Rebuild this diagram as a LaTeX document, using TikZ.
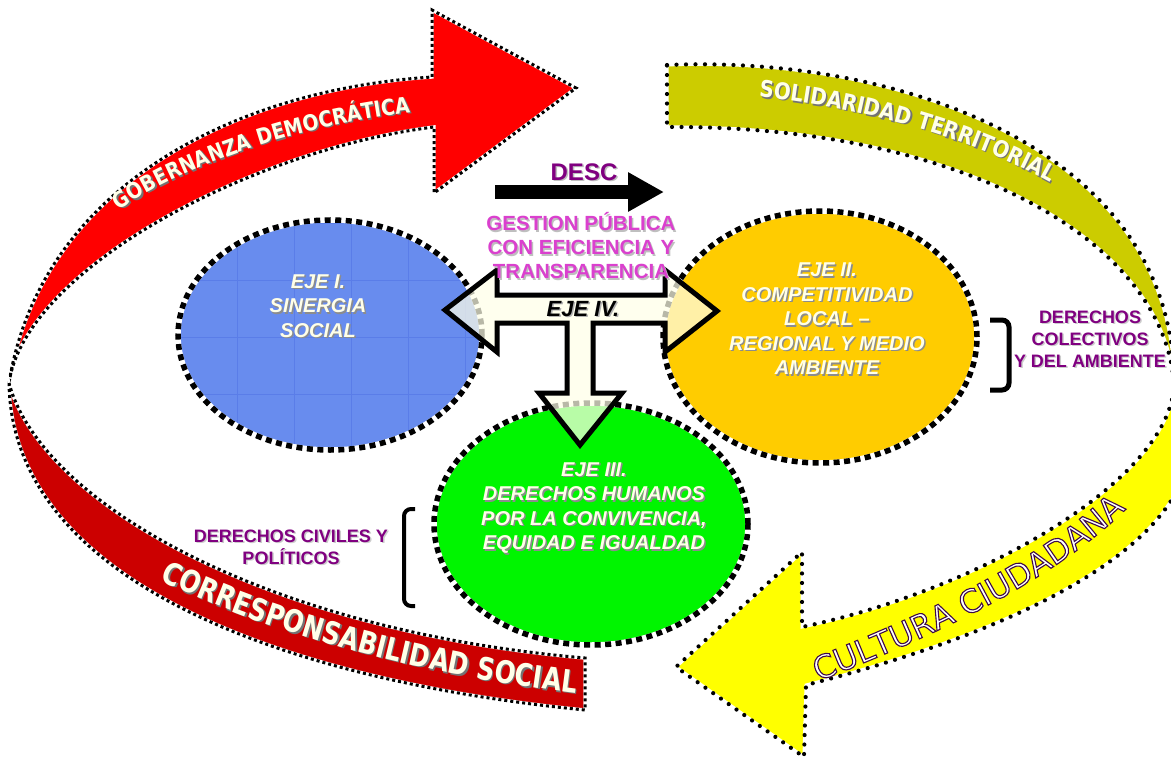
\documentclass[tikz,border=0pt]{standalone}
\usepackage{fontspec}
\setmainfont{Liberation Sans}
\newfontfamily\bandfont[FakeStretch=0.86]{DejaVu Sans}
\newfontfamily\bandfontb[FakeStretch=0.8]{DejaVu Sans}
\newfontfamily\cultfont{DejaVu Sans}
\usetikzlibrary{decorations.text,shapes.geometric,arrows.meta}
\definecolor{bandredA}{RGB}{255,0,0}
\definecolor{bandredB}{RGB}{204,0,0}
\definecolor{oliveA}{RGB}{204,204,0}
\definecolor{yellowA}{RGB}{255,255,0}
\definecolor{ejeblue}{RGB}{104,140,238}
\definecolor{ejegrid}{RGB}{90,125,232}
\definecolor{ejeorange}{RGB}{255,204,0}
\definecolor{ejegreen}{RGB}{0,245,0}
\definecolor{txtpurple}{RGB}{128,0,128}
\definecolor{txtmagenta}{RGB}{218,64,206}
\definecolor{cream}{RGB}{255,255,232}
\makeatletter
\newcommand\outlinefmt{\pgfsys@invoke{2 Tr 1.1 w 0.24 0.04 0.28 RG}}
\newcommand\outlinereset{\pgfsys@invoke{0 Tr}}
\makeatother
\newcommand\shtext[5]{%
  \node[#3, text=#4, xshift=1.5pt, yshift=-1.5pt] (#1s) at #2 {#5};
  \node[#3] (#1) at #2 {#5};}
\newcommand\bandtext[3]{%
  \path[shift={(1.4,1.4)}, decorate, decoration={text along path, text align=center, text={|#1\color{black!55}|#2}}] #3;
  \path[decorate, decoration={text along path, text align=center, text={|#1\color{cream}|#2}}] #3;}
\begin{document}
\begin{tikzpicture}[x=1pt,y=-1pt,
  redborder/.style={postaction={draw=white,line width=3.4pt}, postaction={draw=black,line width=3pt,dash pattern=on 3pt off 3pt}},
  dotborder/.style={postaction={draw=white,line width=3pt}, postaction={draw=black,line width=4.2pt,line cap=round,dash pattern=on 0pt off 9.5pt}},
  ejeborder/.style={postaction={draw=white,line width=5.5pt}, postaction={draw=black,line width=5.5pt,dash pattern=on 6pt off 4.5pt}},
  ejeshape/.style={ellipse, inner sep=0pt, ejeborder},
  ejetxt/.style={font=\fontsize{20}{24.5}\selectfont\bfseries\itshape, text=cream, align=center, inner sep=0pt},
  sidetxt/.style={font=\fontsize{18}{22}\selectfont\bfseries, text=txtpurple, align=center, inner sep=0pt},
  bracket/.style={draw=black, line width=5pt, rounded corners=7pt}
]
\useasboundingbox (0,0) rectangle (1171,758);
\clip (0,0) rectangle (1171,758);

% red twisted arrow: upper loop (bright red)
\fill[bandredA, redborder]
 (9,383) .. controls (25,270) and (250,150) .. (434,127)
 -- (434,193) -- (576,88) -- (432,10) -- (432,77)
 .. controls (230,90) and (40,190) .. (9,383) -- cycle;
% lower loop (dark red)
\fill[bandredB, redborder]
 (9,383) .. controls (12,580) and (280,680) .. (585,710)
 -- (585,658) .. controls (260,630) and (40,500) .. (9,383) -- cycle;

% olive upper loop
\fill[oliveA, dotborder]
 (667,65) .. controls (900,55) and (1175,150) .. (1174,385)
 .. controls (1165,240) and (960,125) .. (667,127) -- cycle;
% yellow lower loop with head
\fill[yellowA, dotborder]
 (1174,385) .. controls (1240,500) and (1100,610) .. (806,685)
 -- (804,757) -- (676,667) -- (802,552) -- (802,627)
 .. controls (980,590) and (1170,480) .. (1174,385) -- cycle;

% ellipses
\node[ejeshape, fill=ejeblue, minimum width=304pt, minimum height=230pt] (eje1) at (330,335) {};
\begin{scope}
  \clip (330,335) ellipse [x radius=149, y radius=112];
  \foreach \gx in {180,237,294,351,408,465} \draw[ejegrid, line width=0.8pt] (\gx,215) -- (\gx,455);
  \foreach \gy in {223,280,337,394,451} \draw[ejegrid, line width=0.8pt] (175,\gy) -- (485,\gy);
\end{scope}
\node[ejeshape, fill=ejeorange, minimum width=314pt, minimum height=252pt] (eje2) at (820,337) {};
\node[ejeshape, fill=ejegreen, minimum width=314pt, minimum height=242pt] (eje3) at (591,524) {};

% EJE IV three-headed arrow
\filldraw[fill=cream, fill opacity=0.72, draw=black, line width=5pt, line join=miter]
 (445,310) -- (497,270) -- (497,295) -- (665,295) -- (665,270) -- (717,311)
 -- (665,352) -- (665,323) -- (593,323) -- (593,393) -- (622,393) -- (580,445)
 -- (539,393) -- (567,393) -- (567,323) -- (497,323) -- (497,352) -- cycle;

% DESC arrow
\coordinate (descL) at (495,192);
\coordinate (descR) at (664,192);
\draw[line width=14pt, -{Triangle[length=36pt,width=37pt]}] (descL) -- (descR);

% brackets
\draw[bracket] (990,320) -- (1009,320) -- (1009,390) -- (990,390);
\draw[bracket, line width=4pt] (415,509) -- (404,509) -- (404,606) -- (415,606);

% texts
\shtext{t1}{(318,306)}{ejetxt}{black!45}{EJE I.\\SINERGIA\\SOCIAL}
\shtext{t2}{(827,319)}{ejetxt}{black!45}{EJE II.\\COMPETITIVIDAD\\LOCAL --\\REGIONAL Y MEDIO\\AMBIENTE}
\shtext{t3}{(594,508)}{ejetxt}{black!45}{EJE III.\\DERECHOS HUMANOS\\POR LA CONVIVENCIA,\\EQUIDAD E IGUALDAD}
\shtext{t4}{(583,309)}{font=\fontsize{22}{26}\selectfont\bfseries\itshape, text=black, inner sep=0pt}{black!30}{EJE IV.}
\shtext{desc}{(584,172)}{font=\fontsize{24}{28}\selectfont\bfseries, text=txtpurple, inner sep=0pt}{black!25}{DESC}
\shtext{gest}{(581,246)}{font=\fontsize{20.5}{24}\selectfont\bfseries, text=txtmagenta, align=center, inner sep=0pt}{black!25}{GESTION PÚBLICA\\CON EFICIENCIA Y\\TRANSPARENCIA}
\shtext{dcol}{(1090,339)}{sidetxt}{black!20}{DERECHOS\\COLECTIVOS\\Y DEL AMBIENTE}
\shtext{dciv}{(291,547)}{sidetxt}{black!20}{DERECHOS CIVILES Y\\POLÍTICOS}

% band texts
\bandtext{\bandfont\bfseries\fontsize{22}{22}\selectfont}{GOBERNANZA DEMOCRÁTICA}{(95,228) .. controls (170,165) and (320,118) .. (440,110)}
\bandtext{\bandfontb\bfseries\fontsize{31}{31}\selectfont}{CORRESPONSABILIDAD SOCIAL}{(70,526) .. controls (210,631) and (470,691) .. (680,703)}
\bandtext{\bandfont\bfseries\fontsize{23}{23}\selectfont}{SOLIDARIDAD TERRITORIAL}{(700,92) .. controls (850,100) and (1000,140) .. (1100,215)}

% outlined text
\path[decorate, decoration={text along path, text align=center, text={|\cultfont\fontsize{32}{32}\selectfont\color{white}\outlinefmt|CULTURA CIUDADANA}}]
 (770,700) .. controls (900,650) and (1080,580) .. (1160,470);
\outlinereset
\end{tikzpicture}
\end{document}
